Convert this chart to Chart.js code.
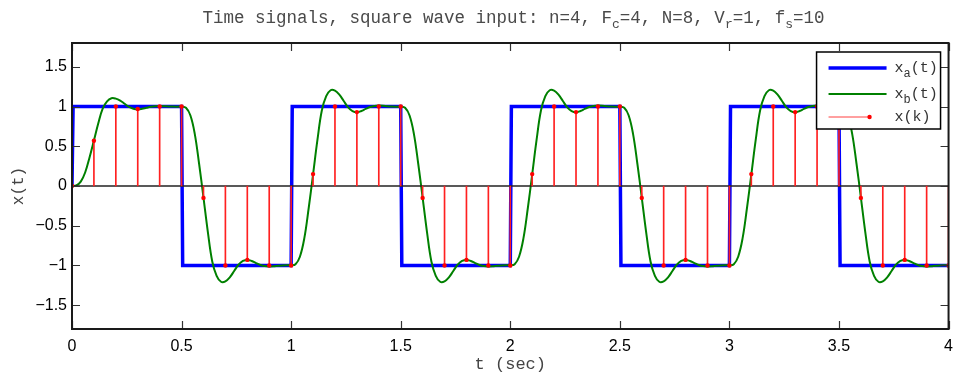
<!DOCTYPE html>
<html>
<head>
<meta charset="utf-8">
<script src="https://cdn.jsdelivr.net/npm/chart.js@4.4.0/dist/chart.umd.min.js"></script>
<style>
  html, body { margin: 0; padding: 0; background: #fff; }
  #wrap { position: relative; width: 961px; height: 373px; }
  #chart { position: absolute; left: 0; top: 0; }
  #title {
    position: absolute; left: 72px; top: 8px; width: 883px; text-align: center;
    font-family: 'Liberation Mono', 'DejaVu Sans Mono', monospace; font-size: 17.5px;
    color: #4a4a4a; white-space: pre;
  }
  #title sub { font-size: 13px; vertical-align: -5px; line-height: 0; }
</style>
</head>
<body>
<div id="wrap">
  <canvas id="chart" width="961" height="373"></canvas>
  <div id="title">Time signals, square wave input: n=4, F<sub>c</sub>=4, N=8, V<sub>r</sub>=1, f<sub>s</sub>=10</div>
</div>
<script>
// ---- DATA ----
const X_TICKS = [0, 0.5, 1, 1.5, 2, 2.5, 3, 3.5, 4];
const Y_TICKS = [-1.5, -1, -0.5, 0, 0.5, 1, 1.5];

// x_a(t): square wave corners
const tA = [0, 0.005, 0.5, 0.505, 1, 1.005, 1.5, 1.505, 2, 2.005, 2.5, 2.505, 3, 3.005, 3.5, 3.505, 4];
const xA = [0, 1, 1, -1, -1, 1, 1, -1, -1, 1, 1, -1, -1, 1, 1, -1, -1];

// x_b(t): filtered signal, read every 0.02 s
const dtB = 0.02;
const xB = [
  0, 0.008, 0.055, 0.17, 0.36, 0.573, 0.79, 0.975, 1.065, 1.105, 1.10, 1.075, 1.035, 0.995, 0.972, 0.965, 0.972, 0.985, 0.997, 1.004, 1.006, 1.005, 1.002, 1.0, 0.999,
  1.0, 0.984, 0.89, 0.66, 0.28, -0.146, -0.58, -0.95, -1.13, -1.205, -1.20, -1.15, -1.07, -0.99, -0.944, -0.93, -0.944, -0.97, -0.994, -1.008, -1.012, -1.01, -1.004, -1.0, -0.998,
  -0.998, -0.984, -0.89, -0.66, -0.28, 0.146, 0.58, 0.95, 1.13, 1.205, 1.20, 1.15, 1.07, 0.99, 0.944, 0.93, 0.944, 0.97, 0.994, 1.008, 1.012, 1.01, 1.004, 1.0, 0.998,
  0.998, 0.984, 0.89, 0.66, 0.28, -0.146, -0.58, -0.95, -1.13, -1.205, -1.20, -1.15, -1.07, -0.99, -0.944, -0.93, -0.944, -0.97, -0.994, -1.008, -1.012, -1.01, -1.004, -1.0, -0.998,
  -0.998, -0.984, -0.89, -0.66, -0.28, 0.146, 0.58, 0.95, 1.13, 1.205, 1.20, 1.15, 1.07, 0.99, 0.944, 0.93, 0.944, 0.97, 0.994, 1.008, 1.012, 1.01, 1.004, 1.0, 0.998,
  0.998, 0.984, 0.89, 0.66, 0.28, -0.146, -0.58, -0.95, -1.13, -1.205, -1.20, -1.15, -1.07, -0.99, -0.944, -0.93, -0.944, -0.97, -0.994, -1.008, -1.012, -1.01, -1.004, -1.0, -0.998,
  -0.998, -0.984, -0.89, -0.66, -0.28, 0.146, 0.58, 0.95, 1.13, 1.205, 1.20, 1.15, 1.07, 0.99, 0.944, 0.93, 0.944, 0.97, 0.994, 1.008, 1.012, 1.01, 1.004, 1.0, 0.998,
  0.998, 0.984, 0.89, 0.66, 0.28, -0.146, -0.58, -0.95, -1.13, -1.205, -1.20, -1.15, -1.07, -0.99, -0.944, -0.93, -0.944, -0.97, -0.994, -1.008, -1.012, -1.01, -1.004, -1.0, -0.998,
  -0.998
];

// x(k): samples at fs = 10
const fs = 10;
const xK = [
  0, 0.57, 1, 0.97, 1, 1, -0.15, -1, -0.93, -1, -1,
  0.15, 1, 0.93, 1, 1, -0.15, -1, -0.93, -1, -1,
  0.15, 1, 0.93, 1, 1, -0.15, -1, -0.93, -1, -1,
  0.15, 1, 0.93, 1, 1, -0.15, -1, -0.93, -1, -1
];

const aPts = tA.map((t, i) => ({ x: t, y: xA[i] }));
const bPts = xB.map((v, i) => ({ x: i * dtB, y: v }));
const kPts = xK.map((v, k) => ({ x: k / fs, y: v }));

const MONO = "'Liberation Mono', 'DejaVu Sans Mono', monospace";
const SANS = "'Liberation Sans', Arial, sans-serif";

const LEGEND = [
  { parts: [['x'], ['a', 1], ['(t)']], color: '#0000ff', width: 3.5 },
  { parts: [['x'], ['b', 1], ['(t)']], color: '#008000', width: 2 },
  { parts: [['x(k)']], color: '#ff4040', width: 1, dot: true },
];

const fmt = v => (v < 0 ? '\u2212' + Math.abs(v) : String(v));

// ---- FRAME / TICKS / LEGEND ----
const matlabLook = {
  id: 'matlabLook',
  beforeDatasetDraw(chart, args) {
    if (args.index !== 1) return; // stem baseline just under the stems
    const { ctx, chartArea: a, scales: { y } } = chart;
    const y0 = y.getPixelForValue(0);
    ctx.save();
    ctx.strokeStyle = '#222';
    ctx.lineWidth = 1.6;
    ctx.beginPath();
    ctx.moveTo(a.left, y0);
    ctx.lineTo(a.right, y0);
    ctx.stroke();
    ctx.restore();
  },
  afterDatasetsDraw(chart) {
    const { ctx, chartArea: a, scales: { x, y } } = chart;
    ctx.save();
    ctx.strokeStyle = '#333';
    ctx.lineWidth = 1.2;
    ctx.beginPath();
    X_TICKS.forEach(v => {
      const px = Math.round(x.getPixelForValue(v)) + 0.5;
      ctx.moveTo(px, a.bottom); ctx.lineTo(px, a.bottom - 8);
      ctx.moveTo(px, a.top); ctx.lineTo(px, a.top + 8);
    });
    Y_TICKS.forEach(v => {
      const py = Math.round(y.getPixelForValue(v)) + 0.5;
      ctx.moveTo(a.left, py); ctx.lineTo(a.left + 8, py);
      ctx.moveTo(a.right, py); ctx.lineTo(a.right - 8, py);
    });
    ctx.stroke();
    ctx.strokeStyle = '#1a1a1a';
    ctx.lineWidth = 2;
    ctx.strokeRect(a.left, a.top, a.right - a.left, a.bottom - a.top);
    ctx.restore();
  },
  afterDraw(chart) {
    const { ctx, chartArea: a } = chart;
    const x0 = a.right - 132, y0 = a.top + 9, w = 124, h = 77;
    const rows = [16, 42, 65];
    ctx.save();
    ctx.fillStyle = '#fff';
    ctx.fillRect(x0, y0, w, h);
    ctx.strokeStyle = '#000';
    ctx.lineWidth = 1.5;
    ctx.strokeRect(x0, y0, w, h);
    LEGEND.forEach((e, i) => {
      const ry = y0 + rows[i];
      ctx.strokeStyle = e.color;
      ctx.lineWidth = e.width;
      ctx.beginPath();
      ctx.moveTo(x0 + 12, ry);
      ctx.lineTo(x0 + (e.dot ? 53 : 70), ry);
      ctx.stroke();
      if (e.dot) {
        ctx.fillStyle = '#ff0000';
        ctx.beginPath();
        ctx.arc(x0 + 53, ry, 2.2, 0, Math.PI * 2);
        ctx.fill();
      }
      let tx = x0 + 78;
      ctx.fillStyle = '#333';
      ctx.textBaseline = 'middle';
      e.parts.forEach(([s, sub]) => {
        ctx.font = (sub ? '12px ' : '15px ') + MONO;
        ctx.fillText(s, tx, ry + (sub ? 6 : 0));
        tx += ctx.measureText(s).width;
      });
    });
    ctx.restore();
  }
};

new Chart(document.getElementById('chart'), {
  type: 'line',
  data: {
    datasets: [
      { type: 'scatter', label: 'x(k) dots', data: kPts, showLine: false,
        pointRadius: 2.2, pointBackgroundColor: '#ff0000', pointBorderWidth: 0 },
      { type: 'bar', label: 'x(k)', data: kPts, backgroundColor: '#ff2020',
        barThickness: 1, borderWidth: 0 },
      { label: 'x_b(t)', data: bPts, borderColor: '#008000', borderWidth: 2,
        pointRadius: 0, tension: 0.4, fill: false },
      { label: 'x_a(t)', data: aPts, borderColor: '#0000ff', borderWidth: 3.5,
        pointRadius: 0, tension: 0, fill: false },
    ]
  },
  options: {
    responsive: false,
    animation: false,
    events: [],
    layout: { padding: { top: 43, right: 6, left: 0, bottom: 0 } },
    plugins: { legend: { display: false }, tooltip: { enabled: false } },
    scales: {
      x: {
        type: 'linear', min: 0, max: 4, offset: false,
        grid: { display: false, drawTicks: false, offset: false },
        border: { display: false },
        afterBuildTicks: s => { s.ticks = X_TICKS.map(v => ({ value: v })); },
        afterFit: s => { s.height = 44; },
        ticks: { color: '#000', padding: 8, maxRotation: 0, autoSkip: false,
                 font: { family: SANS, size: 16 }, callback: fmt },
        title: { display: true, text: 't (sec)', color: '#444',
                 font: { family: MONO, size: 17, lineHeight: 1 }, padding: { top: 0, bottom: 0 } }
      },
      y: {
        type: 'linear', min: -1.8, max: 1.8,
        grid: { display: false, drawTicks: false },
        border: { display: false },
        afterBuildTicks: s => { s.ticks = Y_TICKS.map(v => ({ value: v })); },
        afterFit: s => { s.width = 72; },
        ticks: { color: '#000', padding: 5, font: { family: SANS, size: 16 }, callback: fmt },
        title: { display: true, text: 'x(t)', color: '#444',
                 font: { family: MONO, size: 16 }, padding: { top: 9, bottom: 0 } }
      }
    }
  },
  plugins: [matlabLook]
});
</script>
</body>
</html>
